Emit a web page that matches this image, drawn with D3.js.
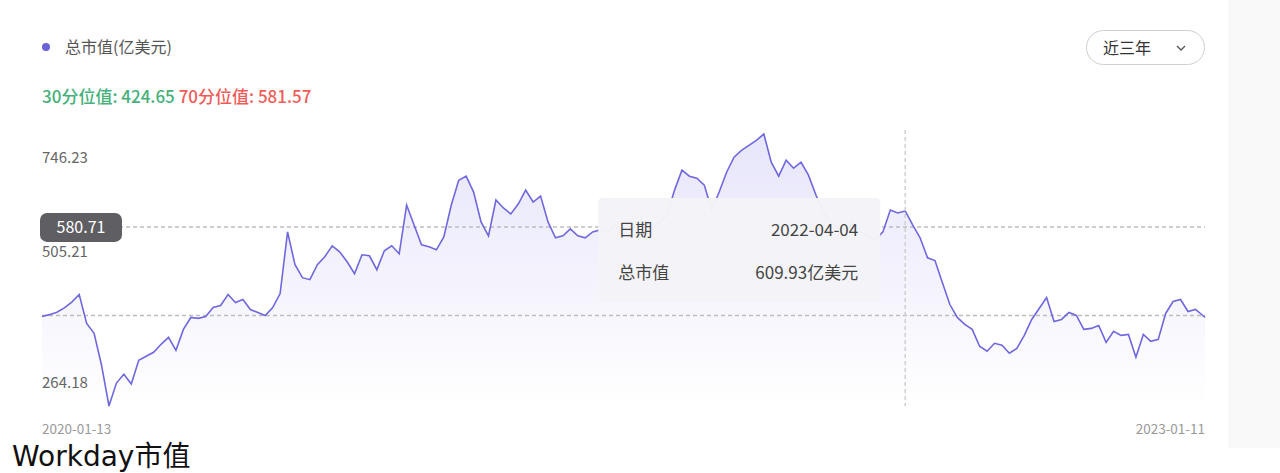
<!DOCTYPE html>
<html><head><meta charset="utf-8">
<script src="https://cdn.jsdelivr.net/npm/d3@7"></script>
<style>
html,body{margin:0;padding:0;background:#fff;}
svg{display:block;font-family:"Noto Sans CJK SC","Noto Sans",sans-serif;}
</style></head>
<body><svg id="c" width="1280" height="473"></svg>
<script>
const seriesName = "总市值(亿美元)";
const q30Label = "30分位值: 424.65", q70Label = "70分位值: 581.57";
const q30 = 424.65, q70 = 581.57;
const yTickValues = [746.23, 505.21, 264.18];
const xTickLabels = ["2020-01-13", "2023-01-11"];
const crossValue = 580.71;
const tipDate = "2022-04-04", tipValue = 609.93;
const rangeButton = "近三年";
const title = "Workday市值";

const dates = [
"2020-01-13","2020-01-20","2020-01-27","2020-02-03","2020-02-10","2020-02-17","2020-02-24",
"2020-03-02","2020-03-09","2020-03-16","2020-03-23","2020-03-30","2020-04-06","2020-04-13","2020-04-20","2020-04-27",
"2020-05-04","2020-05-11","2020-05-18","2020-05-25","2020-06-01","2020-06-08","2020-06-15","2020-06-22","2020-06-29",
"2020-07-06","2020-07-13","2020-07-20","2020-07-27","2020-08-03","2020-08-10","2020-08-17","2020-08-24","2020-08-31",
"2020-09-07","2020-09-14","2020-09-21","2020-09-28","2020-10-05","2020-10-12","2020-10-19","2020-10-26",
"2020-11-02","2020-11-09","2020-11-16","2020-11-23","2020-11-30","2020-12-07","2020-12-14","2020-12-21","2020-12-28",
"2021-01-04","2021-01-11","2021-01-18","2021-01-25","2021-02-01","2021-02-08","2021-02-15","2021-02-22",
"2021-03-01","2021-03-08","2021-03-15","2021-03-22","2021-03-29","2021-04-05","2021-04-12","2021-04-19","2021-04-26",
"2021-05-03","2021-05-10","2021-05-17","2021-05-24","2021-05-31","2021-06-07","2021-06-14","2021-06-21","2021-06-28",
"2021-07-05","2021-07-12","2021-07-19","2021-07-26","2021-08-02","2021-08-09","2021-08-16","2021-08-23","2021-08-30",
"2021-09-06","2021-09-13","2021-09-20","2021-09-27","2021-10-04","2021-10-11","2021-10-18","2021-10-25",
"2021-11-01","2021-11-08","2021-11-15","2021-11-22","2021-11-29","2021-12-06","2021-12-13","2021-12-20","2021-12-27",
"2022-01-03","2022-01-10","2022-01-17","2022-01-24","2022-01-31","2022-02-07","2022-02-14","2022-02-21","2022-02-28",
"2022-03-07","2022-03-14","2022-03-21","2022-03-28","2022-04-04","2022-04-11","2022-04-18","2022-04-25",
"2022-05-02","2022-05-09","2022-05-16","2022-05-23","2022-05-30","2022-06-06","2022-06-13","2022-06-20","2022-06-27",
"2022-07-04","2022-07-11","2022-07-18","2022-07-25","2022-08-01","2022-08-08","2022-08-15","2022-08-22","2022-08-29",
"2022-09-05","2022-09-12","2022-09-19","2022-09-26","2022-10-03","2022-10-10","2022-10-17","2022-10-24","2022-10-31",
"2022-11-07","2022-11-14","2022-11-21","2022-11-28","2022-12-05","2022-12-12","2022-12-19","2022-12-26",
"2023-01-02","2023-01-09","2023-01-11"];

const values = [
422.9,426.1,430.5,438.0,448.3,461.7,410.5,
392.9,336.5,264.18,304.8,320.6,303.0,345.3,352.4,359.4,
373.5,385.9,362.9,400.0,421.1,419.5,422.9,438.7,442.3,
461.7,447.6,452.9,435.2,429.9,424.6,438.7,463.4,572.7,
514.6,491.6,488.1,514.6,528.7,548.1,537.5,519.9,
498.7,532.2,530.4,505.7,539.3,548.1,534.0,620.3,585.1,
549.8,546.3,541.0,563.9,620.3,664.4,671.5,643.3,
590.4,565.7,629.2,615.1,604.5,622.1,646.8,625.7,636.2,
590.4,562.2,565.7,578.0,565.7,562.2,572.7,576.3,572.7,
585.1,565.7,576.3,583.3,590.4,576.3,590.4,602.7,646.8,
682.1,671.5,667.9,655.6,611.5,643.3,678.5,705.0,
717.3,726.1,734.9,746.23,696.2,671.5,699.7,685.6,696.2,
673.2,638.0,608.0,590.4,579.8,576.3,590.4,572.7,565.7,
558.6,572.7,611.5,606.2,609.93,585.1,562.2,526.9,
522.0,482.8,444.0,421.1,408.8,400.0,370.0,361.2,375.3,
371.8,357.6,366.2,389.4,417.6,437.0,456.4,414.1,417.6,
429.9,424.6,400.0,401.7,407.0,377.0,396.4,389.4,391.1,
350.6,391.1,378.8,382.3,428.2,449.3,452.9,431.7,
435.2,424.6,421.1];

const parse = d3.timeParse("%Y-%m-%d");
const data = dates.map((d, i) => ({date: parse(d), value: values[i]}));

const svg = d3.select("#c");
const x = d3.scaleTime().domain([parse(xTickLabels[0]), parse(xTickLabels[1])]).range([42, 1205]);
const y = d3.scaleLinear().domain([264.18, 746.23]).range([406, 134]);

// right side strip
svg.append("rect").attr("x", 1228).attr("y", 0).attr("width", 52).attr("height", 448).attr("fill", "#f9f9fa");

// legend
svg.append("circle").attr("cx", 46).attr("cy", 47).attr("r", 4).attr("fill", "#6a62d8");
svg.append("text").attr("x", 65).attr("y", 47).attr("dy", "0.35em").attr("font-size", 16).attr("fill", "#555").text(seriesName);
const qt = svg.append("text").attr("x", 42).attr("y", 97).attr("dy", "0.35em").attr("font-size", 17).attr("font-weight", 500);
qt.append("tspan").attr("fill", "#45b07a").text(q30Label + " ");
qt.append("tspan").attr("fill", "#ef5c58").text(q70Label);

// range button
svg.append("rect").attr("x", 1086.5).attr("y", 30.5).attr("width", 118).attr("height", 34).attr("rx", 17)
  .attr("fill", "#fff").attr("stroke", "#cfcfcf");
svg.append("text").attr("x", 1103).attr("y", 48).attr("dy", "0.35em").attr("font-size", 16).attr("fill", "#333").text(rangeButton);
svg.append("path").attr("d", "M1177,46 L1181,50 L1185,46").attr("fill", "none").attr("stroke", "#555").attr("stroke-width", 1.3);

// gradient area
const defs = svg.append("defs");
const grad = defs.append("linearGradient").attr("id", "g").attr("x1", 0).attr("y1", 0).attr("x2", 0).attr("y2", 1);
grad.append("stop").attr("offset", "0%").attr("stop-color", "#7a70e6").attr("stop-opacity", 0.18);
grad.append("stop").attr("offset", "100%").attr("stop-color", "#7a70e6").attr("stop-opacity", 0.0);

const area = d3.area().x(d => x(d.date)).y0(y.range()[0]).y1(d => y(d.value));
svg.append("path").datum(data).attr("d", area).attr("fill", "url(#g)");

// quantile dashed lines
[q30, q70].forEach(q => {
  svg.append("line").attr("x1", 42).attr("x2", 1205).attr("y1", y(q)).attr("y2", y(q))
    .attr("stroke", "#bdbdbd").attr("stroke-width", 1.5).attr("stroke-dasharray", "4,3");
});

// line
const line = d3.line().x(d => x(d.date)).y(d => y(d.value));
svg.append("path").datum(data).attr("d", line).attr("fill", "none").attr("stroke", "#6f68de").attr("stroke-width", 1.6);

// y labels
const yOff = {746.23: 24, 505.21: -18, 264.18: -23};
yTickValues.forEach(v => {
  svg.append("text").attr("x", 42).attr("y", y(v) + yOff[v]).attr("dy", "0.35em").attr("font-size", 15)
    .attr("fill", "#666").text(d3.format(".2f")(v));
});

// x labels
svg.append("text").attr("x", x(parse(xTickLabels[0]))).attr("y", 429).attr("dy", "0.35em").attr("font-size", 13.5).attr("fill", "#999").text(xTickLabels[0]);
svg.append("text").attr("x", x(parse(xTickLabels[1]))).attr("y", 429).attr("dy", "0.35em").attr("font-size", 13.5).attr("fill", "#999").attr("text-anchor", "end").text(xTickLabels[1]);

// crosshair
const cx = x(parse(tipDate));
svg.append("line").attr("x1", cx).attr("x2", cx).attr("y1", 130).attr("y2", 406)
  .attr("stroke", "#d0d0d0").attr("stroke-width", 1.5).attr("stroke-dasharray", "4,3");

// y badge
const by = y(crossValue);
svg.append("rect").attr("x", 40).attr("y", by - 14.5).attr("width", 82).attr("height", 29).attr("rx", 7).attr("fill", "#5f5f63");
svg.append("text").attr("x", 81).attr("y", by).attr("dy", "0.35em").attr("text-anchor", "middle").attr("font-size", 16)
  .attr("fill", "#fff").text(d3.format(".2f")(crossValue));

// tooltip
const tx = cx - 307, ty = 198;
svg.append("rect").attr("x", tx).attr("y", ty).attr("width", 282).attr("height", 104).attr("rx", 4)
  .attr("fill", "#f4f4f8").attr("fill-opacity", 0.97);
svg.append("text").attr("x", tx + 20).attr("y", ty + 32).attr("dy", "0.35em").attr("font-size", 17).attr("fill", "#444").text("日期");
svg.append("text").attr("x", tx + 260).attr("y", ty + 32).attr("dy", "0.35em").attr("font-size", 17).attr("fill", "#444").attr("text-anchor", "end").text(tipDate);
svg.append("text").attr("x", tx + 20).attr("y", ty + 75).attr("dy", "0.35em").attr("font-size", 17).attr("fill", "#444").text("总市值");
svg.append("text").attr("x", tx + 260).attr("y", ty + 75).attr("dy", "0.35em").attr("font-size", 17).attr("fill", "#444").attr("text-anchor", "end").text(d3.format(".2f")(tipValue) + "亿美元");

// title
svg.append("text").attr("x", 12).attr("y", 466).attr("font-size", 28).attr("fill", "#111")
  .attr("font-family", "DejaVu Sans, Noto Sans CJK SC, sans-serif").text(title);
</script></body></html>
